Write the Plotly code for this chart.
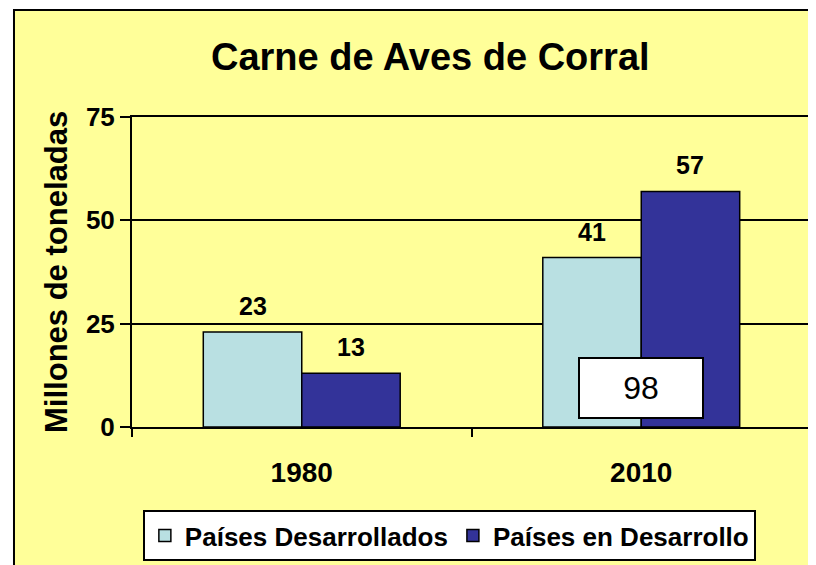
import plotly.graph_objects as go

categories = ["1980", "2010"]
desarrollados = [23, 41]
en_desarrollo = [13, 57]
series_names = ["Países Desarrollados", "Países en Desarrollo"]
total_2010 = 98
y_ticks = [0, 25, 50, 75]

LIGHT = "#B9E0E2"
DARK = "#333399"
YELLOW = "#FFFF99"
FONT = "Liberation Sans, Arial, sans-serif"
BARGAP = 0.42

fig = go.Figure()
xs = list(range(len(categories)))
fig.add_trace(go.Bar(x=xs, y=desarrollados, name="<b>%s</b>" % series_names[0],
                     marker=dict(color=LIGHT, line=dict(color="black", width=1.5))))
fig.add_trace(go.Bar(x=xs, y=en_desarrollo, name="<b>%s</b>" % series_names[1],
                     marker=dict(color=DARK, line=dict(color="black", width=1.5))))

annotations = []
off = (1 - BARGAP) / 4
for i in xs:
    for vals, sgn in ((desarrollados, -1), (en_desarrollo, 1)):
        annotations.append(dict(x=i + sgn * off, y=vals[i], xref="x", yref="y",
                                text="<b>%d</b>" % vals[i], showarrow=False,
                                yshift=26, font=dict(family=FONT, size=25, color="black")))
annotations.append(dict(x=1, y=9.4, xref="x", yref="y", text=str(total_2010), showarrow=False,
                        bgcolor="white", bordercolor="black", borderwidth=2,
                        width=120, height=56, font=dict(family=FONT, size=32, color="black")))
annotations.append(dict(x=0.439, y=1.194, xref="paper", yref="paper", text="<b>Carne de Aves de Corral</b>",
                        showarrow=False, font=dict(family=FONT, size=38, color="black"),
                        xanchor="center", yanchor="middle"))
annotations.append(dict(x=-0.112, y=0.5, xref="paper", yref="paper", text="<b>Millones de toneladas</b>",
                        showarrow=False, textangle=-90, font=dict(family=FONT, size=31, color="black"),
                        xanchor="center", yanchor="middle"))

fig.update_layout(
    width=816, height=565,
    margin=dict(l=124, r=13, t=109, b=146, autoexpand=False),
    paper_bgcolor="white",
    plot_bgcolor="white",
    barmode="group", bargap=BARGAP, bargroupgap=0,
    showlegend=True,
    legend=dict(orientation="h", x=0.016, y=-0.268, xanchor="left", yanchor="top",
                bgcolor="white", bordercolor="black", borderwidth=2,
                font=dict(family=FONT, size=26, color="black"), itemwidth=30,
                traceorder="normal"),
    shapes=[dict(type="rect", xref="paper", yref="paper", layer="below",
                 x0=-0.1738, x1=1.05, y0=-0.6, y1=1.3452,
                 fillcolor=YELLOW, line=dict(color="black", width=2))],
    annotations=annotations,
)
fig.update_xaxes(type="linear", range=[-0.5, 1.5], tickvals=xs, ticktext=["<b>%s</b>" % c for c in categories],
                 showline=True, linecolor="black", linewidth=2, mirror=True,
                 ticks="", showgrid=False, zeroline=False, automargin=False,
                 minor=dict(tickvals=[-0.5, 0.5, 1.5], ticks="outside", ticklen=8, tickwidth=2,
                            tickcolor="black", showgrid=False),
                 tickfont=dict(family=FONT, size=28, color="black"), ticklabelstandoff=19)
fig.update_yaxes(range=[0, 75], tickvals=y_ticks, ticktext=["<b>%d</b>" % t for t in y_ticks],
                 showline=True, linecolor="black", linewidth=2, mirror=True,
                 ticks="outside", ticklen=10, tickwidth=2, tickcolor="black",
                 showgrid=True, gridcolor="black", gridwidth=1.5, zeroline=False, automargin=False,
                 tickfont=dict(family=FONT, size=26, color="black"), ticklabelstandoff=0)

fig.write_html("out.html")
